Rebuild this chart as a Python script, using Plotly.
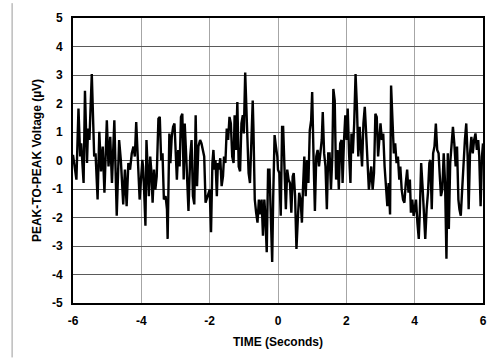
import plotly.graph_objects as go

# Time (s) and peak-to-peak voltage (µV)
time_s = [
    -6.00, -5.95, -5.90, -5.84, -5.79, -5.76, -5.73, -5.69, -5.65, -5.59,
    -5.56, -5.52, -5.45, -5.38, -5.34, -5.28, -5.23, -5.18, -5.13, -5.08,
    -5.01, -4.96, -4.91, -4.86, -4.79, -4.72, -4.65, -4.60, -4.53, -4.48,
    -4.43, -4.38, -4.33, -4.28, -4.23, -4.19, -4.15, -4.11, -4.05,
    -3.97, -3.95, -3.92, -3.88, -3.85, -3.81, -3.78, -3.74, -3.71, -3.67,
    -3.63, -3.59, -3.55, -3.50, -3.46, -3.42, -3.38, -3.34, -3.29, -3.25,
    -3.23, -3.18, -3.15, -3.11, -3.07, -3.03, -3.00, -2.96, -2.92, -2.88,
    -2.84, -2.80, -2.76, -2.73, -2.69, -2.65, -2.62, -2.57, -2.53, -2.49,
    -2.45, -2.41, -2.37, -2.33, -2.28, -2.24, -2.21, -2.16, -2.12,
    -2.00, -1.96, -1.92, -1.89, -1.86, -1.83, -1.79, -1.76, -1.73, -1.69,
    -1.65, -1.61, -1.58, -1.54, -1.50, -1.46, -1.42, -1.38, -1.34, -1.30,
    -1.27, -1.23, -1.19, -1.15, -1.11, -1.07, -1.03, -1.00, -0.96, -0.91,
    -0.86, -0.82, -0.78, -0.74, -0.72, -0.68, -0.64, -0.60, -0.56, -0.52,
    -0.48, -0.44, -0.40, -0.37, -0.33, -0.29, -0.25, -0.21, -0.17, -0.14,
    -0.10, -0.06, -0.02,
    0.00, 0.04, 0.08, 0.12, 0.15, 0.19, 0.23, 0.27, 0.31, 0.35,
    0.39, 0.43, 0.46, 0.50, 0.54, 0.58, 0.62, 0.66, 0.70, 0.73,
    0.77, 0.81, 0.85, 0.89, 0.93, 0.97, 1.00, 1.04, 1.08, 1.12,
    1.16, 1.20, 1.24, 1.28, 1.31, 1.35, 1.39, 1.43, 1.47, 1.51,
    1.55, 1.59, 1.62, 1.66, 1.70, 1.74, 1.78, 1.82, 1.86, 1.89,
    1.93, 1.97, 2.01,
    2.04, 2.08, 2.12, 2.15, 2.19, 2.23, 2.27, 2.31, 2.35, 2.39,
    2.42, 2.46, 2.50, 2.54, 2.58, 2.62, 2.66, 2.70, 2.73, 2.77,
    2.81, 2.85, 2.89, 2.93, 2.97, 3.00, 3.04, 3.08, 3.12, 3.16,
    3.20, 3.24, 3.28, 3.31, 3.35, 3.39, 3.43, 3.47, 3.51, 3.55,
    3.58, 3.62, 3.66, 3.70, 3.74, 3.78, 3.82, 3.86, 3.89, 3.93,
    3.97,
    4.04, 4.08, 4.12, 4.15, 4.19, 4.23, 4.27, 4.31, 4.35, 4.39,
    4.43, 4.46, 4.50, 4.54, 4.58, 4.62, 4.66, 4.70, 4.73, 4.77,
    4.81, 4.85, 4.89, 4.93, 4.97, 5.00, 5.04, 5.08, 5.12, 5.16,
    5.20, 5.24, 5.28, 5.31, 5.35, 5.39, 5.43, 5.47, 5.51, 5.55,
    5.58, 5.62, 5.66, 5.70, 5.74, 5.78, 5.82, 5.86, 5.89, 5.93,
    5.97, 6.00,
]
voltage_uv = [
    0.20, -0.21, -0.67, 1.82, 0.14, 0.60, -0.09, -0.79, 2.45, -0.09,
    1.12, 0.72, 3.03, 0.14, 0.25, -1.37, 1.01, -0.38, 0.49, -1.13,
    1.41, -0.21, 0.83, -0.79, 1.41, -1.94, 0.72, 0.02, -1.54, -0.32,
    -1.60, -0.09, -0.32, 0.25, 0.49, 0.14, 1.35, 0.37, -1.37,
    0.02, -0.21, -1.02, -2.29, 0.72, -0.56, -1.25, 0.14, -0.32, -1.48,
    -0.32, -1.02, -0.56, 1.47, 1.53, 0.02, 0.25, -1.37, -1.25, -1.71,
    -2.75, 0.95, -0.09, 0.83, 1.18, 1.30, 0.14, -0.67, 0.37, -0.21,
    1.53, 1.64, -0.67, 1.30, 0.25, -1.13, -1.77, 0.14, 0.72, -1.25,
    -1.54, 1.59, -0.90, 0.49, 0.72, 0.60, 0.37, 0.14, -1.48,
    -1.02, -2.52, -0.09, 0.37, -0.32, 0.02, -1.25, -0.09, -0.32, 0.08,
    -0.90, -0.56, 0.14, -0.09, 1.12, 0.72, 1.53, 1.30, 0.14, -0.09,
    1.59, 0.37, 2.05, -0.21, -0.38, 1.30, 1.59, 0.95, 3.09, 1.30,
    -0.44, -0.79, 0.60, 2.10, 1.18, -1.37, -1.83, -2.18, -1.37, -1.89,
    -1.37, -2.64, -1.37, -1.94, -3.22, -0.32, -0.32, -1.60, -3.56, -1.25,
    0.89, 0.49, 0.14, -0.32, -0.44, -1.94, 1.18,
    1.18, -0.32, -1.71, -0.32, -0.67, -0.79, -1.83, -0.56, -0.44, -1.25,
    -3.10, -2.06, -1.13, -1.37, -2.18, -1.02, 0.14, -1.25, 0.02, -0.79,
    1.06, 1.41, 2.40, 0.14, -1.77, 0.14, 0.37, -0.21, 0.25, 0.72,
    1.70, 0.25, -0.21, -1.71, 0.25, 0.25, -1.02, 0.14, 2.51, 2.10,
    -0.67, 0.37, -1.02, 0.60, 0.72, -0.79, 0.66, 1.59, 0.72, 1.82,
    0.25, -0.79, 0.95,
    0.25, 1.30, 3.03, 1.88, 0.14, 1.18, 0.49, -0.21, 1.30, 1.88,
    0.95, -0.32, -1.02, -0.56, -0.21, -1.02, -0.44, 1.64, 1.53, 0.14,
    0.83, 1.30, 0.72, 0.95, -0.21, -1.02, -1.60, -0.79, -1.89, 2.63,
    1.30, 0.25, 0.60, -0.09, 0.14, -0.67, -0.21, -1.02, -1.37, -1.48,
    -0.79, -0.32, -1.13, -0.67, -1.83, -1.37, -1.94, -1.37, -2.18, -2.75,
    -1.83,
    -0.09, -0.90, -2.06, -2.75, -1.71, -1.13, -0.09, 0.02, -1.71, 0.25,
    0.49, 1.30, 0.37, 0.25, -0.44, -1.25, -1.02, 0.25, -0.79, -3.45,
    0.25, -2.40, -0.09, 0.49, 1.18, 0.60, -0.21, 0.49, -1.37, -1.71,
    -1.94, -1.02, 0.02, 0.72, 1.30, 0.14, -1.71, 0.25, 0.83, 0.25,
    0.72, 0.95, 0.37, 0.72, 0.14, -1.60, 0.14, 0.60, 0.83, 1.18,
    1.30, 0.60,
]

x_ticks = [-6, -4, -2, 0, 2, 4, 6]
y_ticks = [-5, -4, -3, -2, -1, 0, 1, 2, 3, 4, 5]

FONT = "Liberation Sans, Arial, sans-serif"

fig = go.Figure()
fig.add_trace(go.Scatter(
    x=time_s, y=voltage_uv, mode="lines",
    line=dict(color="black", width=2.4),
    hoverinfo="skip", showlegend=False,
))

fig.update_layout(
    width=498, height=358,
    margin=dict(l=73, r=11, t=15, b=55),
    paper_bgcolor="white", plot_bgcolor="white",
    font=dict(family=FONT, color="black"),
    xaxis=dict(
        range=[-6, 6], tickvals=x_ticks, ticktext=[str(v) for v in x_ticks],
        showgrid=True, gridcolor="#a6a6a6", gridwidth=1,
        zeroline=False, showline=True, mirror=True,
        linecolor="black", linewidth=2,
        ticks="outside", ticklen=6, tickcolor="rgba(0,0,0,0)",
        tickfont=dict(family=FONT, size=12, weight="bold"),
        title=dict(text="TIME (Seconds)",
                   font=dict(family=FONT, size=12, weight="bold"),
                   standoff=10),
    ),
    yaxis=dict(
        range=[-5, 5], tickvals=y_ticks, ticktext=[str(v) for v in y_ticks],
        showgrid=True, gridcolor="#5a5a5a", gridwidth=1,
        zeroline=False, showline=True, mirror=True,
        linecolor="black", linewidth=2,
        ticks="outside", ticklen=6, tickcolor="rgba(0,0,0,0)",
        tickfont=dict(family=FONT, size=12, weight="bold"),
        title=dict(text="PEAK-TO-PEAK Voltage (µV)",
                   font=dict(family=FONT, size=12, weight="bold"),
                   standoff=8),
    ),
    shapes=[
        dict(type="line", xref="paper", yref="paper",
             x0=-61.5 / 414, x1=-61.5 / 414, y0=-55 / 288, y1=15 / 288 + 1,
             line=dict(color="#9a9a9a", width=1)),
    ],
)

fig.write_html("out.html")
